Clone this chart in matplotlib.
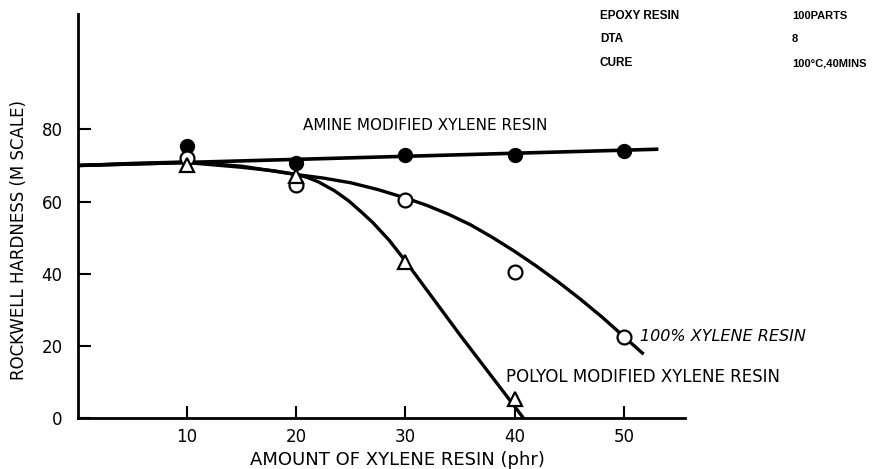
import matplotlib
matplotlib.use('Agg')
import matplotlib.pyplot as plt

# measured points
x_pts = [10, 20, 30, 40, 50]
amine = [75.3, 70.8, 72.8, 73, 74]
xylene100 = [72, 64.7, 60.5, 40.5, 22.5]
polyol_x = [10, 20, 30, 40]
polyol = [70, 67, 43.3, 5.3]

# hand-drawn curves
amine_cx = [0, 53]
amine_cy = [70, 74.5]
xyl_cx = [0, 5, 10, 15, 20, 22.5, 25, 27.5, 30, 32, 34, 36, 38, 40, 42, 44, 46, 48, 50, 51.7]
xyl_cy = [70, 70.6, 71, 69.8, 67.5, 66.5, 65.2, 63.3, 61, 58.9, 56.4, 53.5, 50, 46.2, 42.1, 37.7, 33, 28, 22.6, 18]
pol_cx = [0, 5, 10, 15, 18, 20, 21, 22, 23.5, 24.8, 26, 27, 28.5, 30, 35, 40, 40.8]
pol_cy = [70, 70.4, 70.8, 69.5, 68.5, 67.5, 66.7, 65.5, 63, 60.2, 57, 54.2, 49.3, 43.5, 23, 3.2, 0]

xticks = [10, 20, 30, 40, 50]
yticks = [0, 20, 40, 60, 80]

info_l = ['EPOXY RESIN', 'DTA', 'CURE']
info_r = ['100PARTS', '8', '100°C,40MINS']

plt.rcParams['font.family'] = 'DejaVu Sans'
fig = plt.figure(figsize=(8.73, 4.69), dpi=100)
ax = fig.add_axes([0.0893, 0.1087, 0.6953, 0.8615])

ax.plot(amine_cx, amine_cy, 'k-', lw=2.6)
ax.plot(xyl_cx, xyl_cy, 'k-', lw=2.4)
ax.plot(pol_cx, pol_cy, 'k-', lw=2.4)
ax.plot(x_pts, amine, 'o', color='k', ms=10, ls='none')
ax.plot(x_pts, xylene100, 'o', mfc='white', mec='k', mew=1.6, ms=10, ls='none')
ax.plot(polyol_x, polyol, '^', mfc='white', mec='k', mew=1.6, ms=10, ls='none')

ax.set_xlim(0, 55.6)
ax.set_ylim(0, 112)
ax.set_xticks(xticks)
ax.set_yticks(yticks)
ax.tick_params(direction='in', length=9, width=1.5, labelsize=12)
ax.tick_params(axis='x', pad=7)
ax.tick_params(axis='y', pad=11)
for s in ['top', 'right']:
    ax.spines[s].set_visible(False)
for s in ['left', 'bottom']:
    ax.spines[s].set_linewidth(2)

ax.set_xlabel('AMOUNT OF XYLENE RESIN (phr)', fontsize=13, va='center')
ax.set_ylabel('ROCKWELL HARDNESS (M SCALE)', fontsize=12, va='center')
ax.xaxis.set_label_coords(0.526, -0.104)
ax.yaxis.set_label_coords(-0.097, 0.44)

ax.text(20.6, 81, 'AMINE MODIFIED XYLENE RESIN', fontsize=11, va='center')
ax.text(51.5, 22.5, '100% XYLENE RESIN', fontsize=11.5, va='center', style='italic')
ax.text(39.2, 11.4, 'POLYOL MODIFIED XYLENE RESIN', fontsize=12, va='center')

for i in range(len(info_l)):
    fig.text(600 / 873, 1 - (16 + 23.5 * i) / 469, info_l[i], fontsize=8.5,
             fontweight='bold', va='center', family='Liberation Sans')
    fig.text(792 / 873, 1 - (16 + 23.5 * i) / 469, info_r[i], fontsize=8,
             fontweight='bold', va='center', family='Liberation Sans')

fig.savefig('out.png', dpi=100)
